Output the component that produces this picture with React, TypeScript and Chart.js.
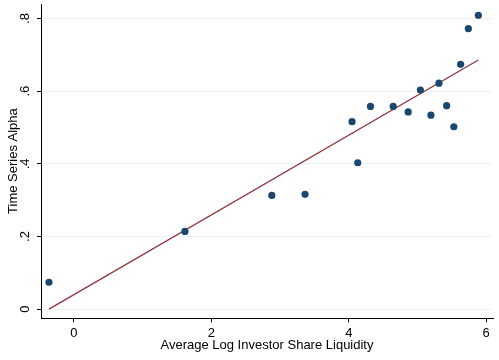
import React, { useEffect, useRef } from "react";
import { Chart, registerables } from "chart.js";

Chart.register(...registerables);

const liquidity = [-0.364, 1.615, 2.88, 3.364, 4.048, 4.131, 4.316, 4.647, 4.865, 5.043, 5.197, 5.313, 5.425, 5.53, 5.629, 5.741, 5.887];
const alpha = [0.074, 0.214, 0.313, 0.316, 0.516, 0.403, 0.558, 0.558, 0.543, 0.603, 0.534, 0.622, 0.56, 0.502, 0.674, 0.772, 0.809];
const fitX = [-0.364, 5.887];
const fitY = [0.0, 0.686];
const xTicks = [0, 2, 4, 6];
const yTicks = [0, 0.2, 0.4, 0.6, 0.8];
const yTickLabels = ["0", ".2", ".4", ".6", ".8"];

const FONT = "'Liberation Sans', Arial, sans-serif";

const yLabelPlugin = {
  id: "yLabels",
  afterDraw(chart: any) {
    const { ctx, chartArea, scales } = chart;
    const ys = scales.y;
    ctx.save();
    ctx.fillStyle = "#000";
    ctx.font = `13px ${FONT}`;
    ctx.textAlign = "center";
    ctx.textBaseline = "middle";
    yTicks.forEach((v, i) => {
      const py = ys.getPixelForValue(v);
      ctx.save();
      ctx.translate(chartArea.left - 16, py);
      ctx.rotate(-Math.PI / 2);
      ctx.fillText(yTickLabels[i], 0, 0);
      ctx.restore();
    });
    ctx.restore();
  },
};

export default function App() {
  const ref = useRef<HTMLCanvasElement | null>(null);
  useEffect(() => {
    document.body.style.margin = "0";
    const ctx = ref.current!;
    const chart = new Chart(ctx, {
      type: "scatter",
      data: {
        datasets: [
          {
            type: "line",
            data: fitX.map((x, i) => ({ x, y: fitY[i] })),
            borderColor: "#90353b",
            borderWidth: 1.3,
            pointRadius: 0,
            fill: false,
            order: 2,
          },
          {
            type: "scatter",
            data: liquidity.map((x, i) => ({ x, y: alpha[i] })),
            backgroundColor: "#1a476f",
            borderWidth: 0,
            pointRadius: 3.6,
            order: 1,
          },
        ],
      },
      plugins: [yLabelPlugin],
      options: {
        animation: false,
        responsive: false,
        maintainAspectRatio: false,
        layout: { padding: { top: 3, right: 6, left: 0, bottom: 7 } },
        plugins: { legend: { display: false }, tooltip: { enabled: false } },
        scales: {
          x: {
            type: "linear",
            min: -0.48,
            max: 6.1,
            afterBuildTicks: (s: any) => {
              s.ticks = xTicks.map((v) => ({ value: v }));
            },
            grid: { drawOnChartArea: false, drawTicks: true, tickLength: 4, tickColor: "#000", color: "#000" },
            border: { color: "#000", width: 1 },
            ticks: {
              color: "#000",
              font: { family: FONT, size: 13 },
              padding: 3.5,
              maxRotation: 0,
              callback: (v: any) => String(v),
            },
            title: {
              display: true,
              text: "Average Log Investor Share Liquidity",
              color: "#000",
              font: { family: FONT, size: 13 },
              padding: { top: -7.4, bottom: 0 },
            },
          },
          y: {
            type: "linear",
            min: -0.025,
            max: 0.84,
            afterBuildTicks: (s: any) => {
              s.ticks = yTicks.map((v) => ({ value: v }));
            },
            grid: { color: "#eaf2f3", lineWidth: 1, drawTicks: true, tickLength: 4, tickColor: "#000" },
            border: { color: "#000", width: 1 },
            ticks: { display: false },
            title: {
              display: true,
              text: "Time Series Alpha",
              color: "#000",
              font: { family: FONT, size: 13 },
              padding: { top: 5.2, bottom: 16.2 },
            },
          },
        },
      },
    });
    return () => chart.destroy();
  }, []);
  return (
    <div style={{ position: "fixed", left: 0, top: 0, width: 499, height: 360, background: "#fff" }}>
      <canvas ref={ref} width={499} height={360} style={{ width: 499, height: 360 }} />
    </div>
  );
}
